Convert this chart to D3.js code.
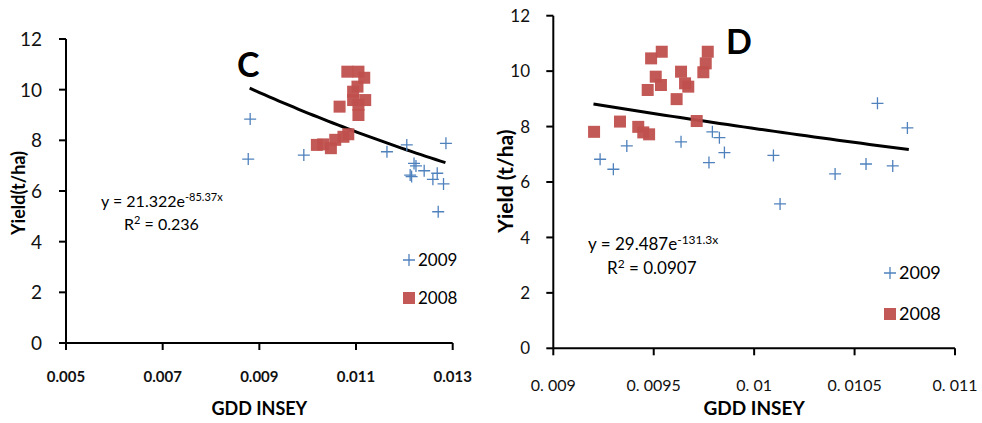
<!DOCTYPE html>
<html lang="en">
<head>
    <meta charset="UTF-8">
    <title>Yield vs GDD INSEY</title>
    <style>
        body { margin: 0; background: #fff; }
        svg { display: block; font-family: "Lato", "Liberation Sans", sans-serif; }
        .axis-line { stroke: #000; stroke-width: 2; }
        .tick-lbl { fill: #111; }
        .cross { stroke: #4f81bd; stroke-width: 1.3; fill: none; }
        .sq { fill: #c0504d; opacity: 0.95; }
        .trend { stroke: #000; stroke-width: 3; fill: none; }
    </style>
</head>
<body>
    <script src="https://d3js.org/d3.v7.min.js"></script>
    <script>
        // ---- chart C ----
        const c2009 = [
            [0.00881, 8.84], [0.00877, 7.26], [0.00992, 7.42], [0.01164, 7.55],
            [0.01205, 7.82], [0.01286, 7.88], [0.01220, 7.09], [0.01224, 6.99],
            [0.01212, 6.63], [0.01215, 6.57], [0.01241, 6.80], [0.01259, 6.46],
            [0.01268, 6.70], [0.01281, 6.28], [0.01270, 5.18]
        ];
        const c2008 = [
            [0.01082, 10.71], [0.01105, 10.71], [0.01117, 10.47], [0.01103, 10.12],
            [0.01094, 9.92], [0.01119, 9.59], [0.01094, 9.59], [0.01066, 9.33],
            [0.01105, 9.40], [0.01105, 9.00], [0.01019, 7.82], [0.01032, 7.84],
            [0.01048, 7.69], [0.01057, 8.02], [0.01074, 8.14], [0.01084, 8.24]
        ];
        const cFit = { a: 21.322, b: -85.37, from: 0.0088, to: 0.01285 };
        const cXTicks = [0.005, 0.007, 0.009, 0.011, 0.013];
        const cXLabels = ["0.005", "0.007", "0.009", "0.011", "0.013"];

        // ---- chart D ----
        const d2009 = [
            [0.009233, 6.82], [0.009299, 6.46], [0.009366, 7.30], [0.009636, 7.45],
            [0.009775, 6.70], [0.009792, 7.81], [0.009827, 7.60], [0.009852, 7.06],
            [0.010096, 6.96], [0.010129, 5.21], [0.010403, 6.29], [0.010557, 6.65],
            [0.010614, 8.84], [0.010690, 6.58], [0.010763, 7.95]
        ];
        const d2008 = [
            [0.009203, 7.81], [0.009332, 8.18], [0.009423, 7.99], [0.009448, 7.79],
            [0.009477, 7.72], [0.009470, 9.32], [0.009487, 10.46], [0.009540, 10.70],
            [0.009510, 9.80], [0.009536, 9.50], [0.009614, 8.99], [0.009636, 9.98],
            [0.009656, 9.56], [0.009672, 9.44], [0.009714, 8.20], [0.009747, 9.96],
            [0.009759, 10.28], [0.009769, 10.70]
        ];
        const dFit = { a: 29.487, b: -131.3, from: 0.0092, to: 0.01077 };
        const dXTicks = [0.009, 0.0095, 0.01, 0.0105, 0.011];
        const dXLabels = ["0. 009", "0. 0095", "0. 01", "0. 0105", "0. 011"];

        const yTicks = [0, 2, 4, 6, 8, 10, 12];

        const svg = d3.select("body").append("svg")
            .attr("width", 982)
            .attr("height", 423);

        function drawChart(o) {
            const x = d3.scaleLinear().domain(o.xDomain).range(o.xRange);
            const y = d3.scaleLinear().domain([0, 12]).range(o.yRange);
            const g = svg.append("g");

            // axes
            g.append("line").attr("class", "axis-line")
                .attr("x1", o.xRange[0]).attr("x2", o.xRange[1])
                .attr("y1", y(0)).attr("y2", y(0));
            g.append("line").attr("class", "axis-line")
                .attr("x1", x(o.xDomain[0])).attr("x2", x(o.xDomain[0]))
                .attr("y1", y(0)).attr("y2", y(12));

            g.selectAll(".ytick").data(yTicks).enter().append("line")
                .attr("class", "axis-line")
                .attr("x1", o.xRange[0] - 7).attr("x2", o.xRange[0])
                .attr("y1", d => y(d)).attr("y2", d => y(d));
            g.selectAll(".ylbl").data(yTicks).enter().append("text")
                .attr("class", "tick-lbl")
                .attr("x", o.yLblX).attr("y", d => y(d))
                .attr("dy", "0.36em")
                .attr("text-anchor", "end")
                .style("font-size", o.yLblSize + "px")
                .text(d => d);

            g.selectAll(".xtick").data(o.xTicks).enter().append("line")
                .attr("class", "axis-line")
                .attr("x1", d => x(d)).attr("x2", d => x(d))
                .attr("y1", y(0)).attr("y2", y(0) + 7);
            g.selectAll(".xlbl").data(o.xTicks).enter().append("text")
                .attr("class", "tick-lbl")
                .attr("x", d => x(d)).attr("y", o.xLblY)
                .attr("dy", "0.36em")
                .attr("text-anchor", "middle")
                .style("font-size", o.xLblSize + "px")
                .style("font-weight", o.xLblWeight)
                .text((d, i) => o.xLabels[i]);

            // axis titles
            g.append("text")
                .attr("x", x((o.xDomain[0] + o.xDomain[1]) / 2)).attr("y", o.xTitleY)
                .attr("text-anchor", "middle")
                .style("font-size", o.xTitleSize + "px").style("font-weight", "bold")
                .text("GDD INSEY");
            g.append("text")
                .attr("transform", `translate(${o.yTitleX},${o.yTitleY}) rotate(-90)`)
                .attr("text-anchor", "middle")
                .attr("dy", "0.36em")
                .style("font-size", o.yTitleSize + "px").style("font-weight", "bold")
                .text(o.yTitle);

            // trend line from the displayed fit
            const fx = d3.range(o.fit.from, o.fit.to + 1e-9, (o.fit.to - o.fit.from) / 40);
            g.append("path").attr("class", "trend")
                .attr("d", d3.line().x(d => x(d)).y(d => y(o.fit.a * Math.exp(o.fit.b * d)))(fx));

            // points
            g.selectAll(".sq").data(o.s2008).enter().append("rect")
                .attr("class", "sq")
                .attr("x", d => x(d[0]) - 6).attr("y", d => y(d[1]) - 6)
                .attr("width", 12).attr("height", 12);
            g.selectAll(".cross").data(o.s2009).enter().append("path")
                .attr("class", "cross")
                .attr("d", d => `M${x(d[0]) - 6},${y(d[1])}h12M${x(d[0])},${y(d[1]) - 6}v12`);

            // panel letter
            g.append("text")
                .attr("x", o.letterX).attr("y", o.letterY)
                .style("font-size", "34px").style("font-weight", "bold")
                .text(o.letter);

            // equation
            const eq = g.append("text")
                .attr("x", o.eqX).attr("y", o.eqY)
                .style("font-size", o.eqSize + "px");
            eq.append("tspan").text(`y = ${o.fit.a}e`);
            eq.append("tspan").attr("dy", -6).style("font-size", (o.eqSize - 5) + "px")
                .text(`${o.fit.b}x`);
            const r2 = g.append("text")
                .attr("x", o.r2X).attr("y", o.eqY + o.eqGap)
                .style("font-size", o.eqSize + "px");
            r2.append("tspan").text("R");
            r2.append("tspan").attr("dy", -6).style("font-size", (o.eqSize - 5) + "px").text("2");
            r2.append("tspan").attr("dy", 6).text(` = ${o.r2}`);

            // legend
            const lx = o.legX, ly = o.legY;
            g.append("path").attr("class", "cross")
                .attr("d", `M${lx - 6},${ly}h12M${lx},${ly - 6}v12`);
            g.append("text").attr("x", lx + 9).attr("y", ly).attr("dy", "0.36em")
                .style("font-size", o.legSize + "px").text("2009");
            g.append("rect").attr("class", "sq")
                .attr("x", lx - 6).attr("y", ly + o.legGap - 6)
                .attr("width", 12).attr("height", 12);
            g.append("text").attr("x", lx + 9).attr("y", ly + o.legGap).attr("dy", "0.36em")
                .style("font-size", o.legSize + "px").text("2008");
        }

        drawChart({
            xDomain: [0.005, 0.013], xRange: [66, 452.7], yRange: [343, 39],
            xTicks: cXTicks, xLabels: cXLabels, s2009: c2009, s2008: c2008, fit: cFit,
            yLblX: 42, yLblSize: 19, xLblY: 377, xLblSize: 15, xLblWeight: "bold",
            xTitleY: 415, xTitleSize: 18, yTitle: "Yield(t/ha)", yTitleX: 19, yTitleY: 193, yTitleSize: 18,
            letter: "C", letterX: 237, letterY: 77,
            eqX: 101, eqY: 207, eqGap: 23, r2X: 124, eqSize: 16, r2: "0.236",
            legX: 409, legY: 260, legGap: 38, legSize: 17
        });

        drawChart({
            xDomain: [0.009, 0.011], xRange: [553.3, 955], yRange: [348.3, 15.7],
            xTicks: dXTicks, xLabels: dXLabels, s2009: d2009, s2008: d2008, fit: dFit,
            yLblX: 530, yLblSize: 17, xLblY: 385, xLblSize: 16, xLblWeight: "normal",
            xTitleY: 415, xTitleSize: 19, yTitle: "Yield (t/ha)", yTitleX: 505, yTitleY: 181, yTitleSize: 21,
            letter: "D", letterX: 726, letterY: 54,
            eqX: 588, eqY: 250, eqGap: 24, r2X: 607, eqSize: 17, r2: "0.0907",
            legX: 890, legY: 273, legGap: 41, legSize: 18
        });
    </script>
</body>
</html>
